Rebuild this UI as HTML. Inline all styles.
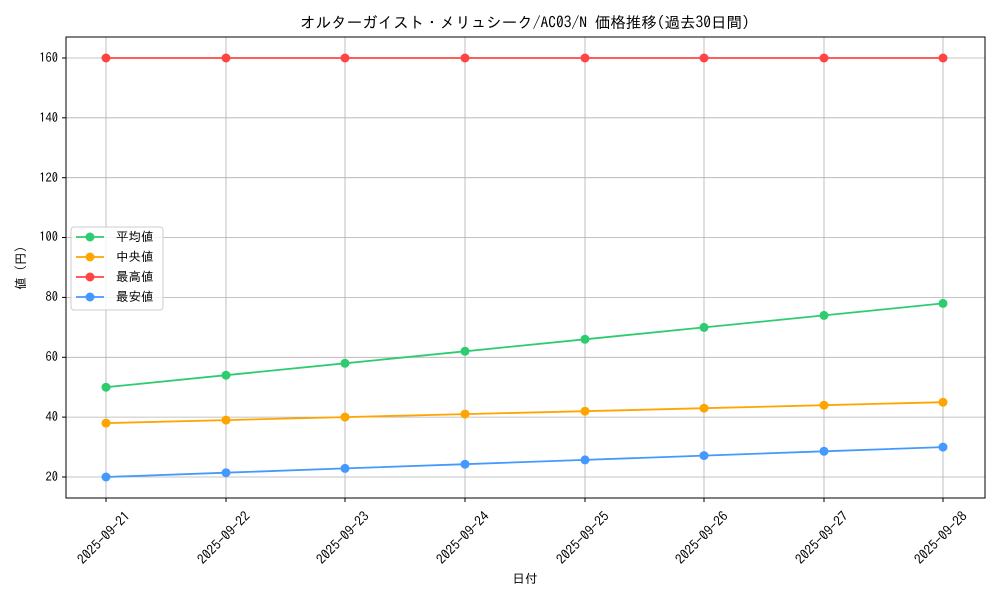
<!DOCTYPE html>
<html><head><meta charset="utf-8"><style>
body{margin:0;background:#fff}
svg text{font-family:"IPAGothic","Liberation Sans","Noto Sans CJK JP",sans-serif;fill:#000}
</style></head><body>
<svg width="1000" height="600" viewBox="0 0 1000 600" xmlns="http://www.w3.org/2000/svg">
<rect width="1000" height="600" fill="#fff"/>
<g stroke="#b0b0b0" stroke-width="0.8">
<line x1="66" x2="985" y1="477" y2="477"/><line x1="66" x2="985" y1="417.1" y2="417.1"/>
<line x1="66" x2="985" y1="357.3" y2="357.3"/><line x1="66" x2="985" y1="297.4" y2="297.4"/>
<line x1="66" x2="985" y1="237.5" y2="237.5"/><line x1="66" x2="985" y1="177.7" y2="177.7"/>
<line x1="66" x2="985" y1="117.8" y2="117.8"/><line x1="66" x2="985" y1="58" y2="58"/>
<line y1="37" y2="498" x1="106" x2="106"/><line y1="37" y2="498" x1="226" x2="226"/>
<line y1="37" y2="498" x1="345" x2="345"/><line y1="37" y2="498" x1="465" x2="465"/>
<line y1="37" y2="498" x1="585" x2="585"/><line y1="37" y2="498" x1="704" x2="704"/>
<line y1="37" y2="498" x1="824" x2="824"/><line y1="37" y2="498" x1="943" x2="943"/>
</g>
<rect x="66" y="37" width="919" height="461" fill="none" stroke="#000" stroke-width="1"/>
<g stroke="#000"><line x1="62" x2="66" y1="477" y2="477"/><line x1="62" x2="66" y1="417.1" y2="417.1"/><line x1="62" x2="66" y1="357.3" y2="357.3"/><line x1="62" x2="66" y1="297.4" y2="297.4"/><line x1="62" x2="66" y1="237.5" y2="237.5"/><line x1="62" x2="66" y1="177.7" y2="177.7"/><line x1="62" x2="66" y1="117.8" y2="117.8"/><line x1="62" x2="66" y1="58" y2="58"/>
<line y1="498" y2="502" x1="106" x2="106"/><line y1="498" y2="502" x1="226" x2="226"/><line y1="498" y2="502" x1="345" x2="345"/><line y1="498" y2="502" x1="465" x2="465"/><line y1="498" y2="502" x1="585" x2="585"/><line y1="498" y2="502" x1="704" x2="704"/><line y1="498" y2="502" x1="824" x2="824"/><line y1="498" y2="502" x1="943" x2="943"/></g>
<g font-size="12.5" text-anchor="end">
<text x="58" y="481">20</text><text x="58" y="421">40</text><text x="58" y="361">60</text><text x="58" y="301">80</text><text x="58" y="241">100</text><text x="58" y="182">120</text><text x="58" y="122">140</text><text x="58" y="62">160</text>
</g>
<g font-size="13.5" text-anchor="middle">
<text transform="translate(107,541) rotate(-45)">2025-09-21</text>
<text transform="translate(227,541) rotate(-45)">2025-09-22</text>
<text transform="translate(346,541) rotate(-45)">2025-09-23</text>
<text transform="translate(466,541) rotate(-45)">2025-09-24</text>
<text transform="translate(586,541) rotate(-45)">2025-09-25</text>
<text transform="translate(705,541) rotate(-45)">2025-09-26</text>
<text transform="translate(825,541) rotate(-45)">2025-09-27</text>
<text transform="translate(944,541) rotate(-45)">2025-09-28</text>
</g>
<text x="525" y="583" font-size="12.5" text-anchor="middle">日付</text>
<text transform="translate(25,268) rotate(-90)" font-size="12.5" text-anchor="middle">値 (円)</text>
<text x="525" y="28" font-size="15.5" text-anchor="middle">オルターガイスト・メリュシーク/AC03/N 価格推移(過去30日間)</text>
<g stroke-width="1.8" fill="none">
<polyline stroke="#2ecc71" points="106,387.2 226,375.2 345,363.3 465,351.3 585,339.3 704,327.4 824,315.4 943,303.4"/>
<polyline stroke="#ffa500" points="106,423.1 226,420.1 345,417.1 465,414.1 585,411.2 704,408.2 824,405.2 943,402.2"/>
<polyline stroke="#ff4444" points="106,58 943,58"/>
<polyline stroke="#4499ff" points="106,477 226,472.7 345,468.4 465,464.2 585,459.9 704,455.6 824,451.3 943,447.1"/>
</g>
<g fill="#2ecc71"><circle cx="106" cy="387.2" r="4.5"/><circle cx="226" cy="375.2" r="4.5"/><circle cx="345" cy="363.3" r="4.5"/><circle cx="465" cy="351.3" r="4.5"/><circle cx="585" cy="339.3" r="4.5"/><circle cx="704" cy="327.4" r="4.5"/><circle cx="824" cy="315.4" r="4.5"/><circle cx="943" cy="303.4" r="4.5"/></g>
<g fill="#ffa500"><circle cx="106" cy="423.1" r="4.5"/><circle cx="226" cy="420.1" r="4.5"/><circle cx="345" cy="417.1" r="4.5"/><circle cx="465" cy="414.1" r="4.5"/><circle cx="585" cy="411.2" r="4.5"/><circle cx="704" cy="408.2" r="4.5"/><circle cx="824" cy="405.2" r="4.5"/><circle cx="943" cy="402.2" r="4.5"/></g>
<g fill="#ff4444"><circle cx="106" cy="58" r="4.5"/><circle cx="226" cy="58" r="4.5"/><circle cx="345" cy="58" r="4.5"/><circle cx="465" cy="58" r="4.5"/><circle cx="585" cy="58" r="4.5"/><circle cx="704" cy="58" r="4.5"/><circle cx="824" cy="58" r="4.5"/><circle cx="943" cy="58" r="4.5"/></g>
<g fill="#4499ff"><circle cx="106" cy="477" r="4.5"/><circle cx="226" cy="472.7" r="4.5"/><circle cx="345" cy="468.4" r="4.5"/><circle cx="465" cy="464.2" r="4.5"/><circle cx="585" cy="459.9" r="4.5"/><circle cx="704" cy="455.6" r="4.5"/><circle cx="824" cy="451.3" r="4.5"/><circle cx="943" cy="447.1" r="4.5"/></g>
<rect x="71" y="227" width="92" height="83" rx="3" fill="#fff" fill-opacity="0.8" stroke="#ccc"/>
<g stroke-width="1.8">
<line x1="76" x2="104" y1="237" y2="237" stroke="#2ecc71"/><circle cx="90" cy="237" r="4.5" fill="#2ecc71"/>
<line x1="76" x2="104" y1="257" y2="257" stroke="#ffa500"/><circle cx="90" cy="257" r="4.5" fill="#ffa500"/>
<line x1="76" x2="104" y1="277" y2="277" stroke="#ff4444"/><circle cx="90" cy="277" r="4.5" fill="#ff4444"/>
<line x1="76" x2="104" y1="297" y2="297" stroke="#4499ff"/><circle cx="90" cy="297" r="4.5" fill="#4499ff"/>
</g>
<g font-size="12.5"><text x="116" y="241">平均値</text><text x="116" y="261">中央値</text><text x="116" y="281">最高値</text><text x="116" y="301">最安値</text></g>
</svg>
</body></html>
